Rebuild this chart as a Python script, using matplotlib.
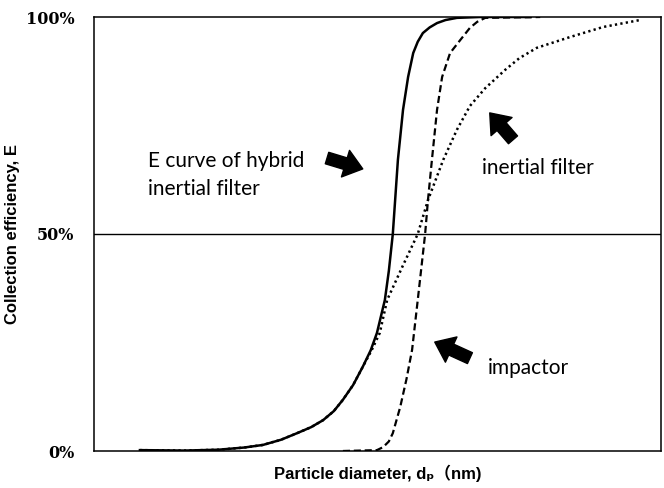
import matplotlib
matplotlib.use("Agg")
import matplotlib.pyplot as plt

# relative particle diameter (no tick labels on the original) and efficiency in %
hybrid_x = [8.1, 16.0, 22.0, 26.5, 29.8, 33.0, 35.8, 38.3, 40.4, 42.3, 43.9, 45.7, 47.4, 48.8, 49.9, 51.3, 52.0, 52.7,
            53.6, 54.5, 55.4, 56.3, 57.1, 58.0, 59.2, 60.5, 62.0, 64.0, 68.1, 76.9]
hybrid_e = [0.2, 0.1, 0.3, 0.8, 1.4, 2.6, 4.1, 5.5, 7.1, 9.2, 11.8, 15.2, 19.4, 23.2, 27.2, 34.8, 41.5, 50.0,
            67.1, 78.6, 86.2, 91.7, 94.3, 96.3, 97.6, 98.6, 99.3, 99.8, 100.0, 100.0]

inertial_x = [8.1, 16.0, 22.0, 26.5, 29.8, 33.0, 35.8, 38.3, 40.4, 42.3, 43.9, 45.7, 47.4, 49.0, 50.4, 51.7, 54.4, 57.1,
              58.9, 61.6, 64.0, 66.3, 69.0, 72.5, 75.0, 78.1, 84.0, 89.8, 96.3]
inertial_e = [0.2, 0.1, 0.3, 0.8, 1.4, 2.6, 4.1, 5.5, 7.1, 9.2, 11.8, 15.2, 19.4, 23.3, 27.2, 34.8, 42.5, 50.0,
              57.8, 67.1, 74.0, 79.5, 83.6, 87.8, 90.5, 92.9, 95.4, 97.7, 99.3]

impactor_x = [43.9, 49.9, 51.0, 52.0, 52.7, 54.0, 55.1, 56.1, 57.1, 58.4, 58.9, 59.6, 60.5, 61.4, 62.8, 64.6, 66.3,
              67.6, 69.0, 78.7]
impactor_e = [0.0, 0.2, 0.9, 2.2, 4.1, 10.1, 16.5, 23.3, 34.8, 50.0, 57.8, 67.1, 78.6, 86.2, 91.7, 94.7, 97.5,
              98.9, 99.8, 100.0]

y_ticks = [0, 50, 100]
y_labels = ["0%", "50%", "100%"]

fig = plt.figure(figsize=(6.64, 4.88), dpi=100)
ax = fig.add_axes([94 / 664, 37 / 488, 567 / 664, 434 / 488])

ax.plot(hybrid_x, hybrid_e, color="black", lw=1.8, ls="-", solid_joinstyle="round")
ax.plot(impactor_x, impactor_e, color="black", lw=1.6, ls=(0, (3.2, 1.7)))
ax.plot(inertial_x, inertial_e, color="black", lw=1.8, ls=(0, (0.9, 1.3)))
ax.axhline(50, color="black", lw=1.0)

ax.set_xlim(0, 100)
ax.set_ylim(0, 100)
ax.set_xticks([])
ax.set_yticks(y_ticks)
ax.set_yticklabels(y_labels, fontfamily="DejaVu Serif", fontweight="bold", fontsize=11.5)
ax.tick_params(axis="y", length=0, pad=14)
for s in ax.spines.values():
    s.set_linewidth(1.1)

ax.set_ylabel("Collection efficiency, E", fontfamily="Liberation Sans", fontweight="bold",
              fontsize=12, labelpad=4)
ax.set_xlabel("Particle diameter, d\u209a\uff08nm)", family=["Liberation Sans", "DejaVu Sans", "Noto Sans CJK JP"],
              fontweight="bold", fontsize=12, labelpad=10)

txt = dict(fontfamily="Lato", fontsize=15, color="black", va="center", ha="left")
ax.text(9.5, 63.6, "E curve of hybrid\ninertial filter", linespacing=1.5, **txt)
ax.text(68.4, 65.2, "inertial filter", **txt)
ax.text(69.5, 19.1, "impactor", **txt)

arrow = dict(arrowstyle="simple,head_length=0.65,head_width=1.0,tail_width=0.43",
             fc="black", ec="black", mutation_scale=20, shrinkA=0, shrinkB=0)
ax.annotate("", xy=(47.4, 65.0), xytext=(41.1, 67.5), arrowprops=arrow)
ax.annotate("", xy=(69.8, 77.9), xytext=(73.9, 71.7), arrowprops=arrow)
ax.annotate("", xy=(60.1, 25.1), xytext=(66.3, 21.4), arrowprops=arrow)

fig.savefig("out.png", dpi=100)
